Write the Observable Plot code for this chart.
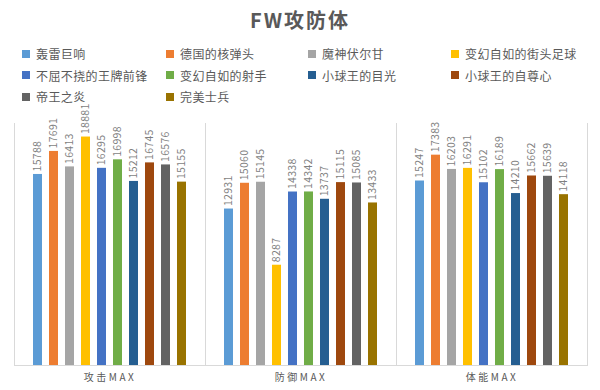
<!DOCTYPE html>
<html>
<head>
<meta charset="utf-8">
<script src="https://cdn.jsdelivr.net/npm/d3@7"></script>
<script src="https://cdn.jsdelivr.net/npm/@observablehq/plot@0.6"></script>
<style>
  html, body { margin: 0; padding: 0; background: #fff; }
  body { width: 600px; height: 390px; position: relative; overflow: hidden;
         font-family: "Noto Sans CJK SC", "DejaVu Sans", sans-serif; }
  #title { position: absolute; top: 5px; left: 0; width: 600px; text-align: center;
           font-size: 20px; font-weight: bold; color: #595959; letter-spacing: 2px; line-height: 30px; }
  #legend { position: absolute; top: 43px; left: 22px; display: grid;
            grid-template-columns: 144px 142px 143px auto; row-gap: 0px; }
  .item { display: flex; align-items: center; height: 21.5px; font-size: 12px; color: #595959; letter-spacing: 0.4px; white-space: nowrap; }
  .sw { width: 8px; height: 8px; margin-right: 6px; flex: none; }
  #chart { position: absolute; top: 100px; left: 0; }
  #chart svg { overflow: visible; }
  #chart svg [aria-label="fx-axis tick label"] text { letter-spacing: 2.5px; }
  #chart svg [aria-label="text"] text { letter-spacing: 0.3px; }
</style>
</head>
<body>
<div id="title">FW攻防体</div>
<div id="legend"></div>
<div id="chart"></div>
<script>
const categories = ["攻击MAX", "防御MAX", "体能MAX"];
const series = ["轰雷巨响", "德国的核弹头", "魔神伏尔甘", "变幻自如的街头足球", "不屈不挠的王牌前锋", "变幻自如的射手", "小球王的目光", "小球王的自尊心", "帝王之炎", "完美士兵"];
const colors = ["#5B9BD5", "#ED7D31", "#A5A5A5", "#FFC000", "#4472C4", "#70AD47", "#255E91", "#9E480E", "#636363", "#997300"];
const attackMax = [15788, 17691, 16413, 18881, 16295, 16998, 15212, 16745, 16576, 15155];
const defenseMax = [12931, 15060, 15145, 8287, 14338, 14342, 13737, 15115, 15085, 13433];
const staminaMax = [15247, 17383, 16203, 16291, 15102, 16189, 14210, 15662, 15639, 14118];

const valuesByCategory = [attackMax, defenseMax, staminaMax];
const data = [];
categories.forEach((c, ci) => {
  series.forEach((s, si) => data.push({category: c, series: s, value: valuesByCategory[ci][si]}));
});

// legend
const legend = document.getElementById("legend");
series.forEach((s, i) => {
  const it = document.createElement("div");
  it.className = "item";
  it.innerHTML = `<span class="sw" style="background:${colors[i]}"></span><span>${s}</span>`;
  legend.appendChild(it);
});

const gridColor = "#d9d9d9";
const chart = Plot.plot({
  width: 600,
  height: 290,
  marginTop: 23,
  marginBottom: 25,
  marginLeft: 13,
  marginRight: 13,
  style: {fontFamily: "'Noto Sans CJK SC', 'DejaVu Sans', sans-serif", background: "transparent", overflow: "visible"},
  fx: {domain: categories, padding: 0, axis: "bottom", label: null, tickSize: 0, tickPadding: 8, fontSize: 12},
  x: {domain: series, paddingInner: 0.44, paddingOuter: 1.15, axis: null},
  y: {domain: [0, 20000], axis: null},
  color: {domain: series, range: colors},
  marks: [
    Plot.frame({anchor: "left", stroke: gridColor}),
    Plot.frame({anchor: "right", stroke: gridColor}),
    Plot.barY(data, {fx: "category", x: "series", y: "value", fill: "series"}),
    Plot.ruleY([0], {stroke: gridColor}),
    Plot.text(data, {fx: "category", x: "series", y: "value", text: d => String(d.value),
      rotate: -90, textAnchor: "start", dy: -3, fontSize: 10.5, fill: "#7f7f7f"})
  ]
});
chart.querySelectorAll('[aria-label="fx-axis tick label"] text, [aria-label="fx-axis"] text').forEach(t => { t.style.fill = "#595959"; });
document.getElementById("chart").appendChild(chart);
</script>
</body>
</html>
